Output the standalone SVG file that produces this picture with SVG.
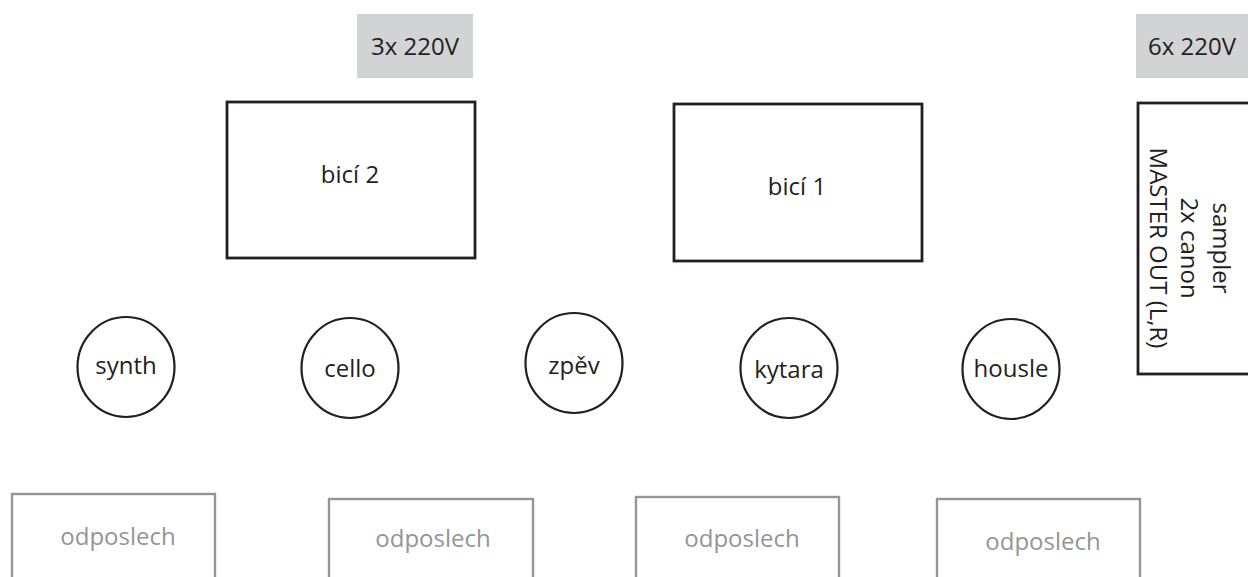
<svg xmlns="http://www.w3.org/2000/svg" width="1248" height="577" viewBox="0 0 1248 577">
<style>
text{font-family:"Open Sans","Noto Sans","Liberation Sans",sans-serif;font-size:24px;fill:#231f20;text-anchor:middle}
.power{fill:#d1d3d4;stroke:none}
.drum{fill:#fff;stroke:#231f20;stroke-width:2.8}
.inst{fill:#fff;stroke:#231f20;stroke-width:2.2}
.mon{fill:#fff;stroke:#939598;stroke-width:2.4}
text.mt{fill:#939598}
</style>
<rect width="1248" height="577" fill="#fff"/>
<g id="power3">
<rect class="power" x="357" y="14" width="116" height="64"/>
<text x="415" y="55">3x 220V</text>
</g>
<g id="power6">
<rect class="power" x="1136" y="14" width="120" height="64"/>
<text x="1192" y="55">6x 220V</text>
</g>
<g id="bici2">
<rect class="drum" x="227" y="102" width="248" height="156"/>
<text x="350" y="183">bicí 2</text>
</g>
<g id="bici1">
<rect class="drum" x="674" y="104" width="248" height="157"/>
<text x="797" y="195">bicí 1</text>
</g>
<g id="sampler">
<rect class="drum" x="1138" y="103" width="130" height="271"/>
<text transform="translate(1213,248) rotate(90)">sampler</text>
<text transform="translate(1181,248) rotate(90)">2x canon</text>
<text transform="translate(1150,248) rotate(90)">MASTER OUT (L,R)</text>
</g>
<g id="synth">
<ellipse class="inst" cx="126" cy="367" rx="48.5" ry="50"/>
<text x="126" y="374">synth</text>
</g>
<g id="cello">
<ellipse class="inst" cx="350" cy="368" rx="48.5" ry="50"/>
<text x="350" y="377">cello</text>
</g>
<g id="zpev">
<ellipse class="inst" cx="574" cy="363" rx="48.5" ry="50"/>
<text x="574" y="374">zpěv</text>
</g>
<g id="kytara">
<ellipse class="inst" cx="789" cy="368" rx="48.5" ry="50"/>
<text x="789" y="378">kytara</text>
</g>
<g id="housle">
<ellipse class="inst" cx="1011" cy="369" rx="48.5" ry="50"/>
<text x="1011" y="377">housle</text>
</g>
<g id="mon1">
<rect class="mon" x="12" y="494" width="203" height="100"/>
<text class="mt" x="118" y="545">odposlech</text>
</g>
<g id="mon2">
<rect class="mon" x="329" y="499" width="204" height="100"/>
<text class="mt" x="433" y="547">odposlech</text>
</g>
<g id="mon3">
<rect class="mon" x="636" y="497" width="203" height="100"/>
<text class="mt" x="742" y="547">odposlech</text>
</g>
<g id="mon4">
<rect class="mon" x="937" y="499" width="203" height="100"/>
<text class="mt" x="1043" y="550">odposlech</text>
</g>
<g id="connectors"></g>
</svg>
